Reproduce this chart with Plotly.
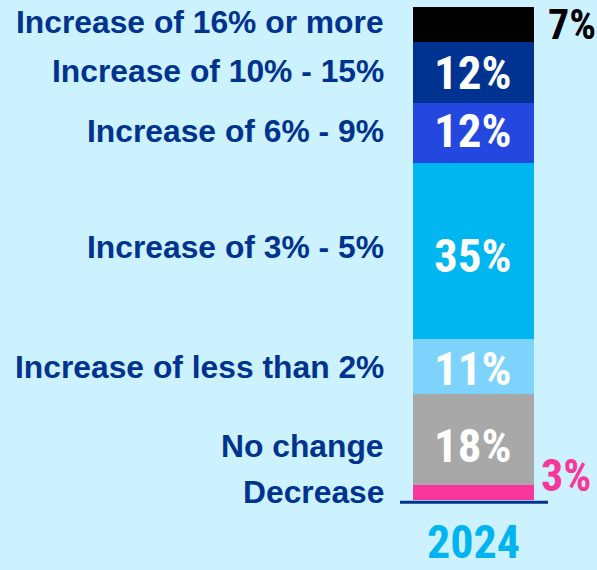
import plotly.graph_objects as go

# Survey result for one year, stacked bottom to top
year = "2024"
categories = [
    "Decrease",
    "No change",
    "Increase of less than 2%",
    "Increase of 3% - 5%",
    "Increase of 6% - 9%",
    "Increase of 10% - 15%",
    "Increase of 16% or more",
]
shares = [3, 18, 11, 35, 12, 12, 7]

colors = ["#F7379B", "#A8A8A8", "#7DD3FB", "#00B6F1", "#2347DF", "#003391", "#000000"]
navy = "#00338D"
bg = "#CCF1FF"
cond_font = "Roboto Condensed, Open Sans Condensed, sans-serif"
label_font = "Liberation Sans, Arial, sans-serif"
# vertical nudges (px) for the category labels and the in-bar values
label_shift = [0, -6, 0, 4, 2, 1, 3]
value_shift = [0, -6, -2, -4, 2, 0, 0]

fig = go.Figure()
for cat, val, col in zip(categories, shares, colors):
    fig.add_trace(go.Bar(
        x=[year], y=[val], name=cat, marker_color=col,
        marker_line_width=0, width=[1], showlegend=False, hoverinfo="skip",
    ))

annotations = []
base = 0
for i, (cat, val) in enumerate(zip(categories, shares)):
    mid = base + val / 2
    annotations.append(dict(
        xref="paper", yref="y", x=386 / 597, y=mid, yshift=label_shift[i],
        text=f"<b>{cat}</b>", showarrow=False, xanchor="right", yanchor="middle",
        font=dict(family=label_font, size=31.8, color=navy),
    ))
    if val >= 10:
        annotations.append(dict(
            xref="x", yref="y", x=0, y=mid, yshift=value_shift[i], text=f"{val}%",
            showarrow=False, xanchor="center", yanchor="middle",
            font=dict(family=cond_font, size=47, color="white", weight="bold"),
        ))
    base += val

# small segments get their value outside, to the right of the bar
first, last = shares[0], shares[-1]
total = sum(shares)
annotations.append(dict(
    xref="x", yref="y", x=0.545, y=first, yshift=-19, text=f"{first}%", showarrow=False,
    xanchor="left", yanchor="bottom",
    font=dict(family=cond_font, size=44, color=colors[0], weight="bold"),
))
annotations.append(dict(
    xref="x", yref="y", x=0.6, y=total, yshift=9, text=f"{last}%", showarrow=False,
    xanchor="left", yanchor="top",
    font=dict(family=cond_font, size=42, color=colors[-1], weight="bold"),
))
annotations.append(dict(
    xref="x", yref="y", x=0, y=0, yshift=-42, text=year, showarrow=False,
    xanchor="center", yanchor="middle",
    font=dict(family=cond_font, size=46, color="#00B4EF", weight="bold"),
))

fig.add_shape(type="line", xref="x", yref="y", x0=-0.607, x1=0.616, y0=-0.45, y1=-0.45,
              line=dict(color=navy, width=3))

fig.update_layout(
    width=597, height=570, margin=dict(l=0, r=0, t=0, b=0),
    barmode="stack", bargap=0,
    paper_bgcolor=bg, plot_bgcolor=bg,
    xaxis=dict(type="category", range=[-3.913, 1.021], visible=False, fixedrange=True),
    yaxis=dict(range=[-13.92, 99.4], visible=False, fixedrange=True),
    annotations=annotations,
)

fig.write_html("out.html")
